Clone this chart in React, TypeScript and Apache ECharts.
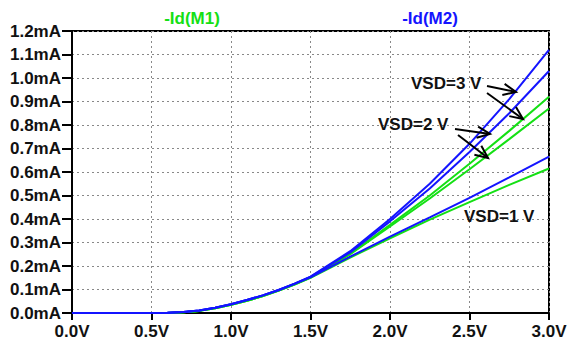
import React, { useEffect, useRef } from "react";
import * as echarts from "echarts";

// Gate voltage sweep (V)
const vsg = [0, 0.5, 0.6, 0.7, 0.8, 0.9, 1.0, 1.1, 1.2, 1.3, 1.4, 1.5, 1.75, 2.0, 2.25, 2.5, 2.75, 3.0];

// -Id(M2) in mA (blue)
const m2Vsd3 = [0, 0, 0.001, 0.004, 0.011, 0.022, 0.037, 0.055, 0.075, 0.098, 0.125, 0.155, 0.263, 0.4, 0.55, 0.72, 0.91, 1.12];
const m2Vsd2 = [0, 0, 0.001, 0.004, 0.011, 0.022, 0.037, 0.055, 0.075, 0.098, 0.125, 0.154, 0.258, 0.39, 0.53, 0.685, 0.85, 1.03];
const m2Vsd1 = [0, 0, 0.001, 0.004, 0.011, 0.022, 0.037, 0.055, 0.075, 0.098, 0.124, 0.152, 0.24, 0.325, 0.407, 0.49, 0.577, 0.665];

// -Id(M1) in mA (green)
const m1Vsd3 = [0, 0, 0, 0.003, 0.009, 0.02, 0.035, 0.052, 0.072, 0.095, 0.122, 0.152, 0.252, 0.375, 0.5, 0.635, 0.775, 0.92];
const m1Vsd2 = [0, 0, 0, 0.003, 0.009, 0.02, 0.035, 0.052, 0.072, 0.095, 0.122, 0.151, 0.25, 0.368, 0.487, 0.612, 0.74, 0.87];
const m1Vsd1 = [0, 0, 0, 0.003, 0.009, 0.02, 0.035, 0.052, 0.072, 0.095, 0.121, 0.15, 0.236, 0.318, 0.397, 0.472, 0.545, 0.615];

const BLUE = "#1414ff";
const GREEN = "#14e014";
const FONT = 'bold 17px "Liberation Sans", Arial, sans-serif';

function pairs(ys: number[]) {
  return vsg.map((x, i) => [x, ys[i]]);
}

function arrow(x1: number, y1: number, x2: number, y2: number) {
  const ang = Math.atan2(y2 - y1, x2 - x1);
  const len = 14;
  const spread = (24 * Math.PI) / 180;
  const b1 = [x2 - len * Math.cos(ang - spread), y2 - len * Math.sin(ang - spread)];
  const b2 = [x2 - len * Math.cos(ang + spread), y2 - len * Math.sin(ang + spread)];
  return [
    { type: "line", shape: { x1, y1, x2, y2 }, style: { stroke: "#000", lineWidth: 2 }, z: 100 },
    { type: "polyline", shape: { points: [b1, [x2, y2], b2] }, style: { stroke: "#000", lineWidth: 2, fill: null }, z: 100 },
  ];
}

function label(text: string, x: number, y: number, fill: string, align: string) {
  return {
    type: "text",
    x,
    y,
    z: 100,
    style: { text, fill, font: FONT, align, verticalAlign: "middle", textAlign: align, textVerticalAlign: "middle" },
  };
}

export default function App() {
  const ref = useRef<HTMLDivElement>(null);
  useEffect(() => {
    document.body.style.margin = "0";
    const chart = echarts.init(ref.current!, null, { renderer: "svg" });
    const line = (data: number[], color: string) => ({
      type: "line",
      data: pairs(data),
      showSymbol: false,
      smooth: false,
      lineStyle: { color, width: 2 },
      itemStyle: { color },
    });
    chart.setOption({
      animation: false,
      backgroundColor: "#fff",
      grid: { left: 72, right: 22, top: 31, bottom: 34, show: true, borderColor: "#000", borderWidth: 2 },
      xAxis: {
        type: "value",
        min: 0,
        max: 3,
        interval: 0.5,
        axisLine: { show: true, lineStyle: { color: "#000", width: 2 } },
        axisTick: { show: true, length: 7, lineStyle: { color: "#000", width: 2 } },
        axisLabel: {
          formatter: (v: number) => v.toFixed(1) + "V",
          color: "#111",
          fontFamily: '"Liberation Sans", Arial, sans-serif',
          fontWeight: "bold",
          fontSize: 17,
          margin: 10,
        },
        splitLine: { show: true, lineStyle: { color: "#888", type: [2, 3], width: 1 } },
      },
      yAxis: {
        type: "value",
        min: 0,
        max: 1.2,
        interval: 0.1,
        axisLine: { show: true, lineStyle: { color: "#000", width: 2 } },
        axisTick: { show: true, length: 10, lineStyle: { color: "#000", width: 2 } },
        axisLabel: {
          formatter: (v: number) => v.toFixed(1) + "mA",
          color: "#111",
          fontFamily: '"Liberation Sans", Arial, sans-serif',
          fontWeight: "bold",
          fontSize: 17,
          margin: 11,
        },
        splitLine: { show: true, lineStyle: { color: "#888", type: [2, 3], width: 1 } },
      },
      series: [
        line(m1Vsd3, GREEN),
        line(m1Vsd2, GREEN),
        line(m1Vsd1, GREEN),
        line(m2Vsd3, BLUE),
        line(m2Vsd2, BLUE),
        line(m2Vsd1, BLUE),
      ],
      graphic: [
        label("-Id(M1)", 192, 18, GREEN, "center"),
        label("-Id(M2)", 430, 18, BLUE, "center"),
        label("VSD=3 V", 411, 83, "#111", "left"),
        label("VSD=2 V", 378, 124, "#111", "left"),
        label("VSD=1 V", 464, 216, "#111", "left"),
        ...arrow(487, 86, 516, 92),
        ...arrow(487, 93, 523, 119),
        ...arrow(455, 129, 490, 134),
        ...arrow(458, 135, 488, 158),
      ],
    });
    return () => chart.dispose();
  }, []);
  return <div ref={ref} style={{ width: 571, height: 347 }} />;
}
